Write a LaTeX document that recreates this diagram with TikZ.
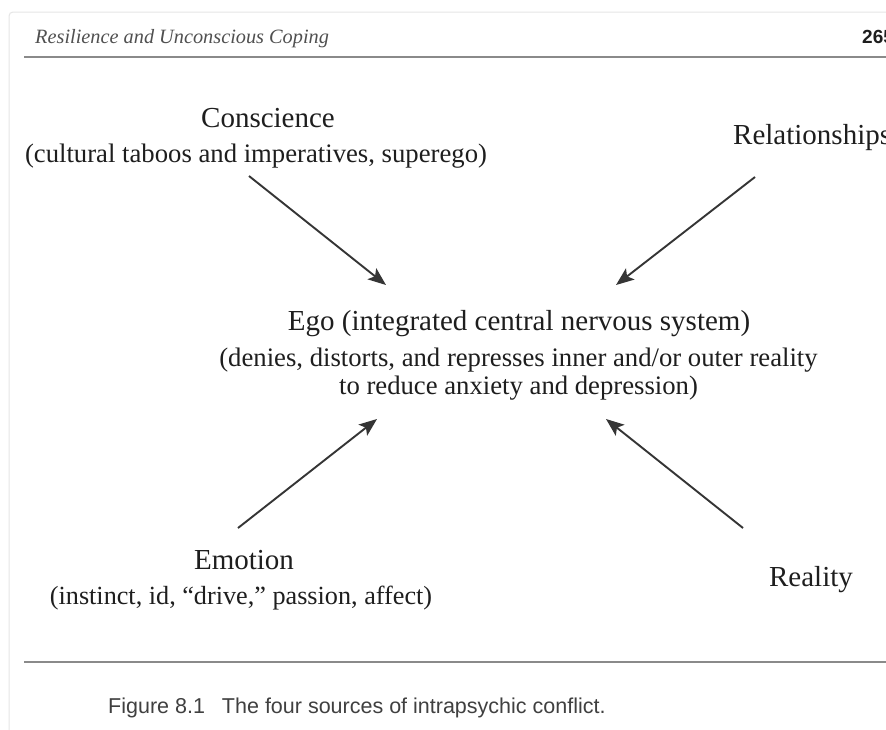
\documentclass[tikz,border=0pt]{standalone}
\usepackage{fontspec}
\setmainfont{Liberation Serif}
\setsansfont{Liberation Sans}
\usetikzlibrary{arrows.meta}
\definecolor{ink}{HTML}{1E1E1E}
\definecolor{rulegray}{HTML}{8A8A8A}
\definecolor{edgegray}{HTML}{E6E6E6}
\definecolor{headgray}{HTML}{505050}
\definecolor{capgray}{HTML}{404040}
\tikzset{
  main/.style={font=\fontsize{29}{33}\selectfont, text=ink, inner sep=0pt, anchor=base},
  sub/.style={font=\fontsize{26.7}{31}\selectfont, text=ink, inner sep=0pt, anchor=base},
  flow/.style={draw=ink!90, line width=1.9pt, -{Stealth[length=18pt, width=14pt, inset=4pt]}},
  pagerule/.style={draw=rulegray, line width=2.8pt},
}
\begin{document}
\begin{tikzpicture}[x=1pt,y=-1pt]
\useasboundingbox (0,0) rectangle (886,729);
\clip (0,0) rectangle (886,729);
\fill[white] (0,0) rectangle (886,729);
% faint page edge
\draw[edgegray, line width=1pt, rounded corners=4pt] (9,740) -- (9,12) -- (900,12);
% header
\node[anchor=base west, inner sep=0pt, text=headgray, font=\fontsize{20.3}{24}\itshape\selectfont] (head) at (35,43) {Resilience and Unconscious Coping};
\node[anchor=base west, inner sep=0pt, text=ink, font=\fontsize{19}{22}\sffamily\bfseries\selectfont] (pnum) at (862,43) {265};
\draw[pagerule] (24,57) -- (890,57);
% nodes
\node[main] (consc) at (268,127) {Conscience};
\node[sub] (conscsub) at (256,162) {(cultural taboos and imperatives, superego)};
\node[main, anchor=base west] (rel) at (733,144) {Relationships};
\node[main] (ego) at (519,330) {Ego (integrated central nervous system)};
\node[sub] (egosub1) at (518.5,366) {(denies, distorts, and represses inner and/or outer reality};
\node[sub] (egosub2) at (518.5,394) {to reduce anxiety and depression)};
\node[main] (emo) at (244,569) {Emotion};
\node[sub, font=\fontsize{26.2}{31}\selectfont] (emosub) at (241,604) {(instinct, id, “drive,” passion, affect)};
\node[main] (real) at (811,586) {Reality};
% connector ends
\coordinate (c1s) at (249,176); \coordinate (c1e) at (386,285);
\coordinate (c2s) at (755,177); \coordinate (c2e) at (616,285);
\coordinate (c3s) at (238,528); \coordinate (c3e) at (377,419);
\coordinate (c4s) at (743,528); \coordinate (c4e) at (606,419);
\draw[flow] (c1s) -- (c1e);
\draw[flow] (c2s) -- (c2e);
\draw[flow] (c3s) -- (c3e);
\draw[flow] (c4s) -- (c4e);
% footer
\draw[pagerule] (24,662) -- (890,662);
\node[anchor=base west, inner sep=0pt, text=capgray, font=\fontsize{21.5}{25}\sffamily\selectfont] (cap) at (108,713) {Figure 8.1\hspace{17pt}The four sources of intrapsychic conflict.};
\end{tikzpicture}
\end{document}
